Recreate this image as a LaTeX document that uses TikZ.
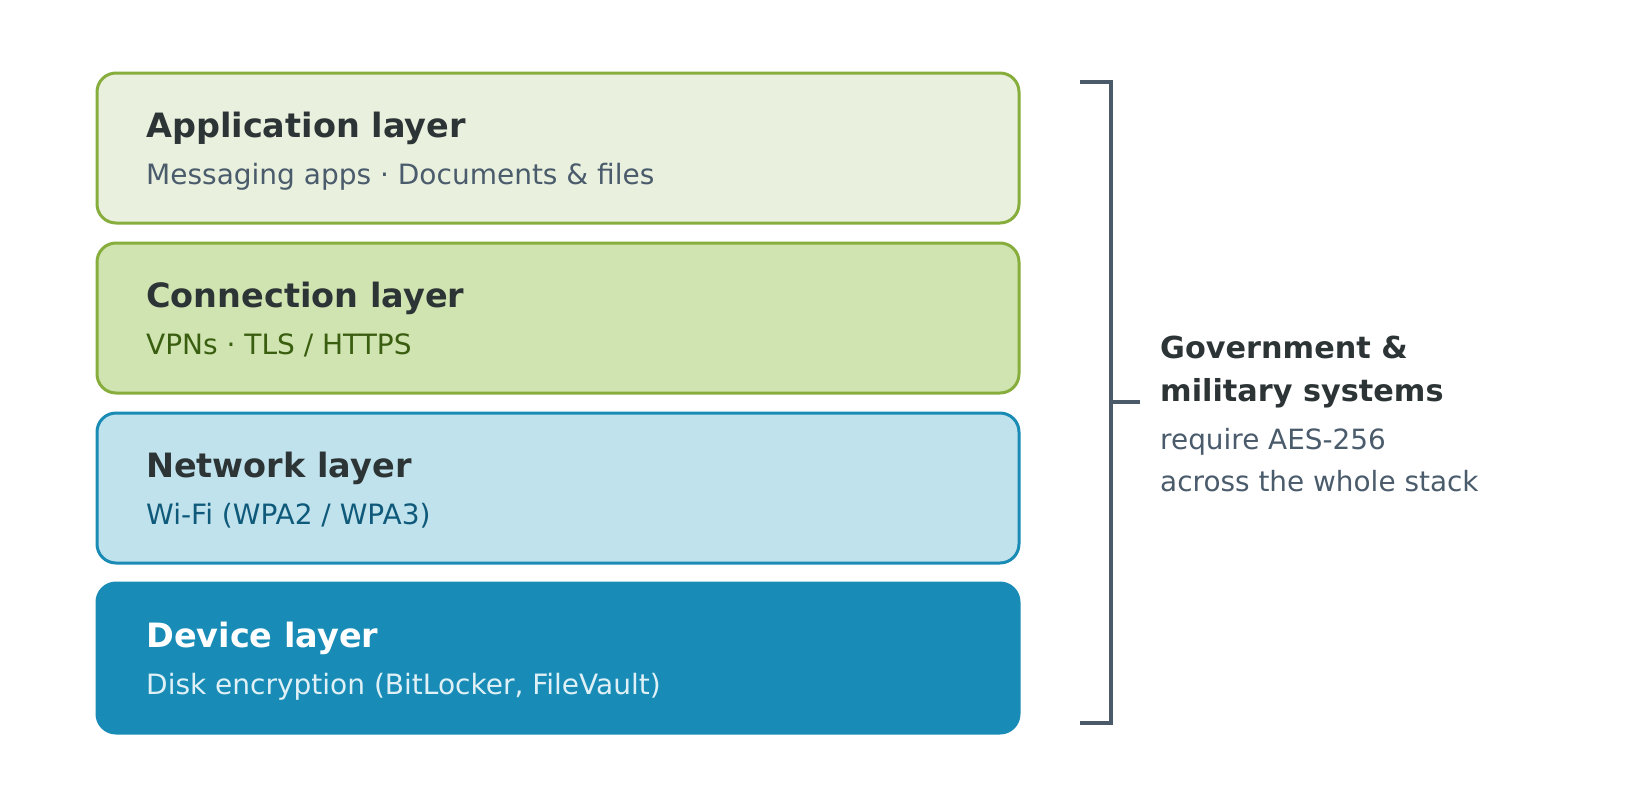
\documentclass[tikz,border=0pt]{standalone}
\usepackage{fontspec}
\setmainfont{DejaVu Sans}
\definecolor{titlec}{HTML}{2D3436}
\definecolor{slatec}{HTML}{4A5B6C}
\definecolor{greenb}{HTML}{87AD3D}
\definecolor{appfill}{HTML}{E9F0DE}
\definecolor{connfill}{HTML}{D0E4B1}
\definecolor{conntext}{HTML}{3A5E10}
\definecolor{blueb}{HTML}{1A8BB5}
\definecolor{netfill}{HTML}{C0E2EC}
\definecolor{nettext}{HTML}{0F5A7A}
\definecolor{devfill}{HTML}{188CB6}
\definecolor{devtext}{HTML}{DFF0F6}
\definecolor{bracketc}{HTML}{4B5A68}
\begin{document}
\begin{tikzpicture}[x=1pt,y=-1pt,
  layerbox/.style={rounded corners=19pt, line width=3pt},
  ttl/.style={anchor=base west, inner sep=0pt, font=\fontsize{33.5}{40}\selectfont\bfseries, text=titlec},
  sub/.style={anchor=base west, inner sep=0pt, font=\fontsize{28}{34}\selectfont},
  sideb/.style={anchor=base west, inner sep=0pt, font=\fontsize{30.3}{36}\selectfont\bfseries, text=titlec},
  sider/.style={anchor=base west, inner sep=0pt, font=\fontsize{27.9}{33}\selectfont, text=slatec},
  brk/.style={draw=bracketc, line width=4pt}
]
\useasboundingbox[fill=white] (0,0) rectangle (1650,801);

% layer boxes
\draw[layerbox, draw=greenb, fill=appfill] (97,73) rectangle (1019,223);
\draw[layerbox, draw=greenb, fill=connfill] (97,243) rectangle (1019,393);
\draw[layerbox, draw=blueb, fill=netfill] (97,413) rectangle (1019,563);
\draw[layerbox, draw=devfill, fill=devfill] (97,583) rectangle (1019,733);

% texts
\node[ttl] (t1) at (146,137) {Application layer};
\node[sub, text=slatec] (s1) at (146,184) {Messaging apps · Documents \& files};
\node[ttl] (t2) at (146,307) {Connection layer};
\node[sub, text=conntext] (s2) at (146,354) {VPNs · TLS / HTTPS};
\node[ttl] (t3) at (146,477) {Network layer};
\node[sub, text=nettext] (s3) at (146,524) {Wi-Fi (WPA2 / WPA3)};
\node[ttl, text=white] (t4) at (146,647) {Device layer};
\node[sub, text=devtext] (s4) at (146,694) {Disk encryption (BitLocker, FileVault)};

% bracket
\coordinate (b1) at (1080,82);
\coordinate (b2) at (1111,82);
\coordinate (b3) at (1111,723);
\coordinate (b4) at (1080,723);
\coordinate (m1) at (1111,402);
\coordinate (m2) at (1140,402);
\draw[brk] (b1) -- (b2) -- (b3) -- (b4);
\draw[brk] (m1) -- (m2);

% side text
\node[sideb] (g1) at (1160,358) {Government \&};
\node[sideb] (g2) at (1160,401) {military systems};
\node[sider] (r1) at (1160,449) {require AES-256};
\node[sider] (r2) at (1160,491) {across the whole stack};
\end{tikzpicture}
\end{document}
